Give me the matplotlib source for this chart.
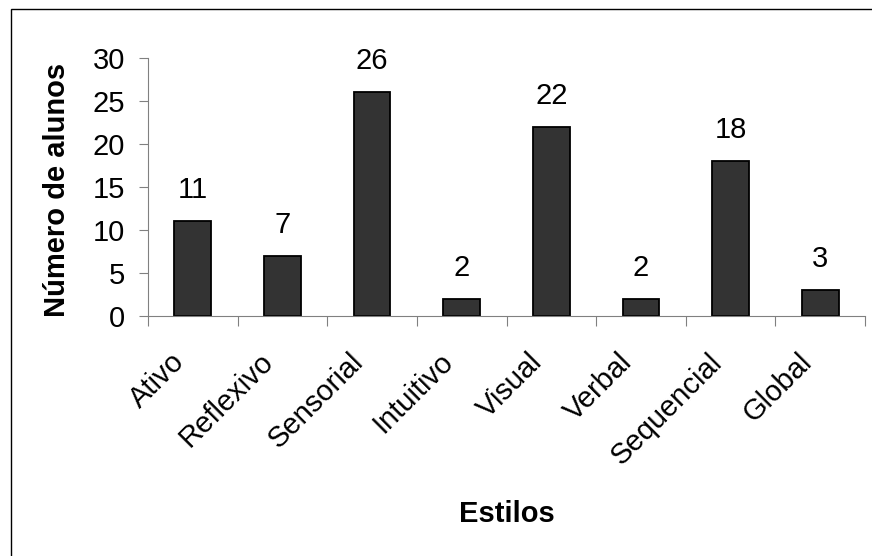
import matplotlib
matplotlib.use("Agg")
import matplotlib.pyplot as plt
from matplotlib.patches import Rectangle
from matplotlib.transforms import ScaledTranslation
import numpy as np

categories = ["Ativo", "Reflexivo", "Sensorial", "Intuitivo", "Visual", "Verbal", "Sequencial", "Global"]
values = [11, 7, 26, 2, 22, 2, 18, 3]
yticks = [0, 5, 10, 15, 20, 25, 30]

plt.rcParams['font.family'] = ['Liberation Sans', 'DejaVu Sans']

W, H = 872, 556
FS = 21
fig = plt.figure(figsize=(W / 100, H / 100), dpi=100)
fig.patch.set_facecolor('white')

# outer border (top/left visible)
fig.patches.append(Rectangle((10.5 / W, -0.05), 1.2, (H - 9) / H + 0.05,
                             transform=fig.transFigure, fill=False,
                             edgecolor='black', linewidth=1.0))

ax = fig.add_axes([148 / W, 1 - 316 / H, (865 - 148) / W, (316 - 58) / H])
x = np.arange(len(categories))
ax.bar(x, values, width=0.41, color='#333333', edgecolor='black', linewidth=1.3)

for xi, v in zip(x, values):
    ax.annotate(str(v), (xi, v), xytext=(0, 16.5), textcoords='offset points',
                ha='center', va='baseline', fontsize=FS, color='black')

ax.set_xlim(-0.5, len(categories) - 0.5)
ax.set_ylim(0, 30)
ax.set_yticks(yticks)
ax.set_yticklabels([str(t) for t in yticks], fontsize=FS)
ax.tick_params(axis='y', direction='out', length=6.5, width=0.8, color='#808080', pad=10)

ax.set_xticks(x)
ax.set_xticklabels(categories, rotation=45, ha='right', va='top',
                   rotation_mode='anchor', fontsize=FS)
ax.tick_params(axis='x', which='major', length=0, pad=23)
shift = ScaledTranslation(-0.23, 0, fig.dpi_scale_trans)
for lab in ax.get_xticklabels():
    lab.set_transform(lab.get_transform() + shift)
ax.set_xticks(np.arange(-0.5, len(categories) + 0.5, 1), minor=True)
ax.tick_params(axis='x', which='minor', direction='out', length=7, width=0.8, color='#808080')

for s in ['top', 'right']:
    ax.spines[s].set_visible(False)
for s in ['left', 'bottom']:
    ax.spines[s].set_color('#808080')
    ax.spines[s].set_linewidth(0.8)

ax.set_ylabel("Número de alunos", fontsize=FS, fontweight='bold')
ax.yaxis.set_label_coords((57 - 148) / (865 - 148), 0.49, transform=ax.transAxes)
ax.yaxis.label.set_va('center')
ax.yaxis.label.set_ha('center')

ax.set_xlabel("Estilos", fontsize=FS, fontweight='bold')
ax.xaxis.set_label_coords(0.501, -(521.5 - 316) / (316 - 58), transform=ax.transAxes)
ax.xaxis.label.set_va('baseline')
ax.xaxis.label.set_ha('center')

fig.savefig("out.png", dpi=100, facecolor='white')
